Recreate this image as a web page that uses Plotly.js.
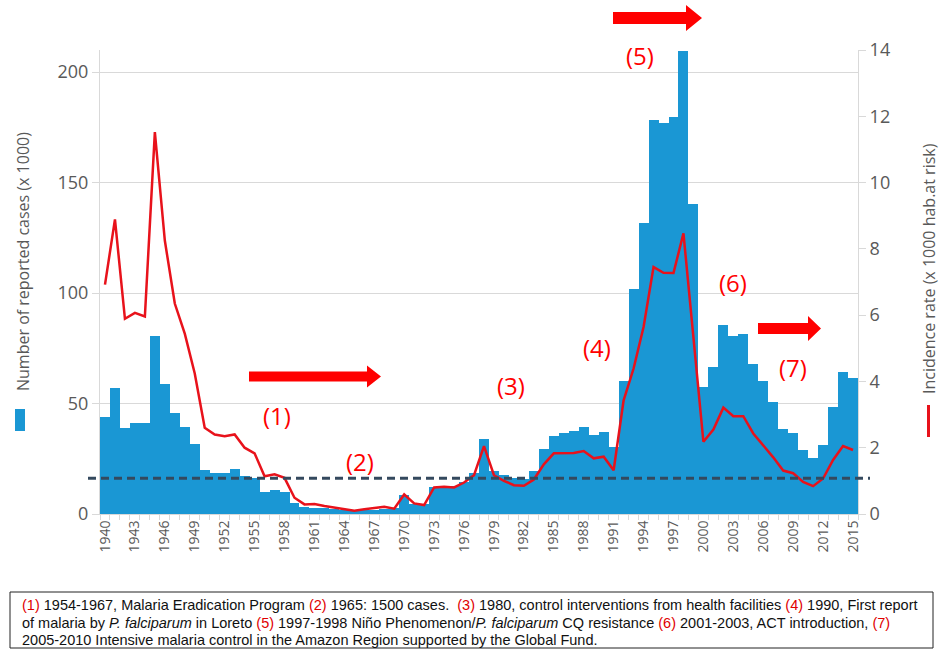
<!DOCTYPE html>
<html>
<head>
<meta charset="utf-8">
<script src="https://cdn.plot.ly/plotly-3.0.1.min.js"></script>
<style>
html,body{margin:0;padding:0;background:#fff;}
#chart{width:943px;height:649px;}
</style>
</head>
<body>
<div id="chart"></div>
<script>
// ---------- DATA ----------
const years = [1940,1941,1942,1943,1944,1945,1946,1947,1948,1949,
  1950,1951,1952,1953,1954,1955,1956,1957,1958,1959,
  1960,1961,1962,1963,1964,1965,1966,1967,1968,1969,
  1970,1971,1972,1973,1974,1975,1976,1977,1978,1979,
  1980,1981,1982,1983,1984,1985,1986,1987,1988,1989,
  1990,1991,1992,1993,1994,1995,1996,1997,1998,1999,
  2000,2001,2002,2003,2004,2005,2006,2007,2008,2009,
  2010,2011,2012,2013,2014,2015];

// Number of reported cases (x 1000)
const cases = [44,57,39,41,41,80.5,58.7,45.6,39.6,31.6,
  19.8,18.6,18.6,20.2,17,16.5,9.8,10.7,9.8,4.8,
  3.0,2.8,2.5,2.3,2.0,1.5,1.8,2.0,2.2,2.6,
  8.5,4.5,4.5,12,12.3,12.7,14.6,18.7,33.8,19.5,
  17.6,16.4,16,19.6,29.3,35.4,36.5,37.7,39.5,35.6,
  37,30.5,60.3,101.7,131.8,178.3,177.1,179.8,209.6,140.3,
  57.3,66.7,85.5,80.5,81.4,67.9,60.3,50.5,38.3,36.5,
  29,25.2,31.2,48.6,64.4,61.4];

// Incidence rate (x 1000 hab. at risk)
const incidence = [6.92,8.89,5.89,6.07,5.96,11.52,8.25,6.35,5.44,4.24,
  2.6,2.4,2.35,2.4,2.0,1.83,1.14,1.2,1.09,0.49,
  0.29,0.3,0.24,0.19,0.14,0.1,0.14,0.18,0.22,0.16,
  0.59,0.32,0.27,0.8,0.82,0.8,0.95,1.17,2.05,1.17,
  1.0,0.87,0.85,1.04,1.5,1.83,1.83,1.84,1.9,1.68,
  1.73,1.32,3.43,4.39,5.64,7.45,7.28,7.27,8.47,5.3,
  2.18,2.55,3.21,2.95,2.95,2.43,2.08,1.71,1.31,1.23,
  0.97,0.84,1.07,1.63,2.05,1.93];

const thresholdRate = 1.08;

const xTickVals = [1940,1943,1946,1949,1952,1955,1958,1961,1964,1967,1970,1973,1976,1979,1982,1985,1988,1991,1994,1997,2000,2003,2006,2009,2012,2015];
const xTickText = xTickVals.map(String);
const leftTicks = [0,50,100,150,200];
const rightTicks = [0,2,4,6,8,10,12,14];

const labels = ["(1)","(2)","(3)","(4)","(5)","(6)","(7)"];
const captionLines = [
  '<span style="color:#e00000">(1)</span> 1954-1967, Malaria Eradication Program <span style="color:#e00000">(2)</span> 1965: 1500 cases.  <span style="color:#e00000">(3)</span> 1980, control interventions from health facilities <span style="color:#e00000">(4)</span> 1990, First report',
  'of malaria by <i>P. falciparum</i> in Loreto <span style="color:#e00000">(5)</span> 1997-1998 Niño Phenomenon/<i>P. falciparum</i> CQ resistance <span style="color:#e00000">(6)</span> 2001-2003, ACT introduction, <span style="color:#e00000">(7)</span>',
  '2005-2010 Intensive malaria control in the Amazon Region supported by the Global Fund.'
];

// ---------- LAYOUT HELPERS (pixel -> paper) ----------
const ML = 100, MR = 85, MT = 50, MB = 135, W = 943, H = 649;
const PW = W - ML - MR, PH = H - MT - MB;
function px(x){ return (x - ML) / PW; }
function py(y){ return (H - MB - y) / PH; }

const BLUE = '#1a97d4';
const RED = '#e8121b';
const GRAY = '#595959';
const LIGHT = '#d9d9d9';

function arrowPath(xs, xe, yc, shaft, head, headLen){
  const pts = [
    [xs, yc - shaft/2], [xe - headLen, yc - shaft/2], [xe - headLen, yc - head/2],
    [xe, yc], [xe - headLen, yc + head/2], [xe - headLen, yc + shaft/2], [xs, yc + shaft/2]
  ];
  return 'M' + pts.map(p => px(p[0]).toFixed(5) + ',' + py(p[1]).toFixed(5)).join(' L') + ' Z';
}

const labelPos = [[277,415],[360,461],[511,385],[597,347],[640,55],[733,282],[793,367]];

const annotations = labels.map((t,i) => ({
  text: t, xref:'paper', yref:'paper', x: px(labelPos[i][0]), y: py(labelPos[i][1]),
  xanchor:'center', yanchor:'middle', showarrow:false,
  font:{family:'Open Sans, sans-serif', size:24, color:'#ff0000'}
}));

annotations.push({
  text:'Number of reported cases (x 1000)', xref:'paper', yref:'paper',
  x: px(23), y: py(262), xanchor:'center', yanchor:'middle', textangle:-90, showarrow:false,
  font:{family:'Open Sans, sans-serif', size:16, color:GRAY}
});
annotations.push({
  text:'Incidence rate (x 1000 hab.at risk)', xref:'paper', yref:'paper',
  x: px(929), y: py(269), xanchor:'center', yanchor:'middle', textangle:-90, showarrow:false,
  font:{family:'Open Sans, sans-serif', size:16, color:GRAY}
});

const capY = [605, 623, 640];
captionLines.forEach((t,i) => annotations.push({
  text:t, xref:'paper', yref:'paper', x: px(20), y: py(capY[i]),
  xanchor:'left', yanchor:'middle', showarrow:false, align:'left',
  font:{family:'Liberation Sans Narrow, Arial Narrow, Liberation Sans, sans-serif', size:14.5, color:'#111'}
}));

const shapes = [
  {type:'line', xref:'paper', yref:'y2', x0:px(88), x1:px(870), y0:thresholdRate, y1:thresholdRate,
   line:{color:'#34495e', width:3, dash:'8px,5px'}},
  {type:'path', xref:'paper', yref:'paper', path: arrowPath(249,381,376.5,10,22,14), fillcolor:'#ff0000', line:{width:0}},
  {type:'path', xref:'paper', yref:'paper', path: arrowPath(613,702,18,12,26,16), fillcolor:'#ff0000', line:{width:0}},
  {type:'path', xref:'paper', yref:'paper', path: arrowPath(758,821,328.5,11,25,13), fillcolor:'#ff0000', line:{width:0}},
  {type:'rect', xref:'paper', yref:'paper', x0:px(15), x1:px(25), y0:py(409), y1:py(431), fillcolor:BLUE, line:{width:0}},
  {type:'line', xref:'paper', yref:'paper', x0:px(928.5), x1:px(928.5), y0:py(405), y1:py(437), line:{color:RED, width:3}},
  {type:'rect', xref:'paper', yref:'paper', x0:px(10), x1:px(933), y0:py(592), y1:py(648), line:{color:'#222', width:1}, fillcolor:'rgba(0,0,0,0)'}
];

const traces = [
  {type:'bar', x: years, y: cases, marker:{color:BLUE, line:{width:0}}, yaxis:'y', hoverinfo:'x+y'},
  {type:'scatter', mode:'lines', x: years, y: incidence, yaxis:'y2', line:{color:RED, width:2.5}, hoverinfo:'x+y'}
];

const layout = {
  width:W, height:H,
  margin:{l:ML, r:MR, t:MT, b:MB, pad:0},
  paper_bgcolor:'#fff', plot_bgcolor:'#fff',
  showlegend:false, bargap:0,
  font:{family:'Open Sans, sans-serif', color:GRAY},
  xaxis:{
    range:[1939.5, 2015.5], tickmode:'array', tickvals:xTickVals, ticktext:xTickText,
    tickangle:-90, ticks:'', showgrid:false, zeroline:false,
    showline:true, linecolor:LIGHT, linewidth:1,
    tickfont:{family:'Open Sans, sans-serif', size:14, color:GRAY},
    minor:{tick0:1939.5, dtick:1, ticks:'outside', ticklen:5, tickcolor:LIGHT, showgrid:false}
  },
  yaxis:{
    range:[0,210], tickmode:'array', tickvals:leftTicks, ticks:'outside', ticklen:7, tickcolor:LIGHT,
    showgrid:true, gridcolor:LIGHT, gridwidth:1, zeroline:false,
    showline:true, linecolor:LIGHT, linewidth:1,
    tickfont:{family:'Open Sans, sans-serif', size:18, color:GRAY}
  },
  yaxis2:{
    range:[0,14], overlaying:'y', side:'right', tickmode:'array', tickvals:rightTicks,
    ticks:'outside', ticklen:7, tickcolor:LIGHT, showgrid:false, zeroline:false,
    showline:true, linecolor:LIGHT, linewidth:1,
    tickfont:{family:'Open Sans, sans-serif', size:18, color:GRAY}
  },
  annotations: annotations,
  shapes: shapes
};

Plotly.newPlot('chart', traces, layout, {displayModeBar:false, staticPlot:true});
</script>
</body>
</html>
